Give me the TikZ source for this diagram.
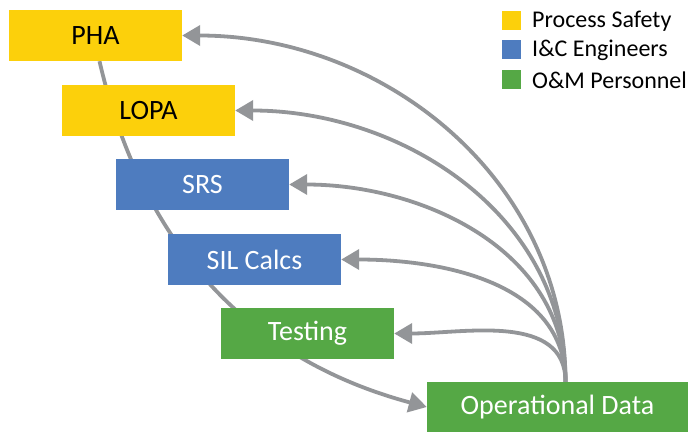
\documentclass[tikz,border=0pt]{standalone}
\usepackage{fontspec}
\setmainfont{Carlito}
\usetikzlibrary{arrows.meta,backgrounds}
\definecolor{psyellow}{HTML}{FCD00B}
\definecolor{icblue}{HTML}{4E7CBF}
\definecolor{omgreen}{HTML}{55A845}
\definecolor{linkgray}{HTML}{939598}
\begin{document}
\begin{tikzpicture}[x=1pt,y=1pt,
    box/.style={minimum width=173pt, minimum height=51pt, inner sep=0pt,
      font=\fontsize{28}{33}\selectfont},
    ps/.style={box, fill=psyellow, text=black},
    ic/.style={box, fill=icblue, text=white},
    om/.style={box, fill=omgreen, text=white},
    key/.style={minimum size=19pt, inner sep=0pt},
    keytext/.style={anchor=west, inner sep=0pt, font=\fontsize{24}{28}\selectfont},
    feedback/.style={draw=linkgray, line width=3.8pt,
      -{Triangle[length=18pt,width=20pt]}}]
  \useasboundingbox (0,0) rectangle (688,432);
  \node[ps] (pha) at (95.5,396.5) {PHA};
  \node[ps] (lopa) at (148.5,321.5) {LOPA};
  \node[ic] (srs) at (202.5,247.5) {SRS};
  \node[ic] (sil) at (254.5,172.5) {SIL Calcs};
  \node[om] (test) at (307.5,98.5) {Testing};
  \node[om, minimum width=261pt, minimum height=50pt] (opdata) at (557.5,25) {Operational Data};
  % legend
  \node[key, fill=psyellow] (k1) at (511.5,411.5) {};
  \node[key, fill=icblue] (k2) at (511.5,382.5) {};
  \node[key, fill=omgreen] (k3) at (511.5,352.5) {};
  \node[keytext] (t1) at (532,410.5) {Process Safety};
  \node[keytext] (t2) at (532,381.5) {I\&C Engineers};
  \node[keytext] (t3) at (532,351.5) {O\&M Personnel};
  % lifecycle, behind the boxes
  \begin{scope}[on background layer]
    \draw[feedback] ([xshift=4pt]pha.south) to[out=-77, in=165] (opdata.west);
  \end{scope}
  % feedback from operational data
  \draw[feedback] ([xshift=8pt]opdata.north) to[out=90, in=0] (pha.east);
  \draw[feedback] ([xshift=8pt]opdata.north) to[out=90, in=0] (lopa.east);
  \draw[feedback] ([xshift=8pt]opdata.north) to[out=90, in=0] (srs.east);
  \draw[feedback] ([xshift=8pt]opdata.north) to[out=90, in=0] (sil.east);
  \draw[feedback] ([xshift=8pt]opdata.north) to[out=90, in=0] (test.east);
\end{tikzpicture}
\end{document}
